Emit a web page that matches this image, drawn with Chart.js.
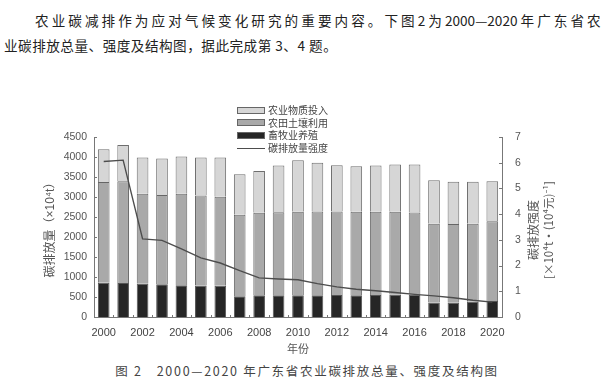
<!DOCTYPE html>
<html><head><meta charset="utf-8">
<script src="https://cdn.jsdelivr.net/npm/chart.js@4"></script>
<style>
html,body{margin:0;padding:0;background:#fff;}
body{width:606px;height:383px;overflow:hidden;position:relative;font-family:'Noto Sans CJK SC','Noto Sans',sans-serif;}
.para{position:absolute;font-size:13.6px;color:#222;line-height:25px;white-space:nowrap;}
#l1{top:8px;left:35px;width:566px;display:flex;justify-content:space-between;}
#l2{top:33px;left:4px;letter-spacing:0.5px;}
#legend{position:absolute;left:237px;top:104px;font-size:10px;color:#444;line-height:12.6px;}
#legend .row{display:flex;align-items:center;height:12.6px;}
#legend .sw{display:inline-block;width:26px;height:5px;border:1px solid #666;margin-right:3px;}
#legend .ln{display:inline-block;width:28px;height:0;border-top:1.5px solid #4d4d4d;margin-right:3px;}
.rot{position:absolute;white-space:nowrap;transform:translate(-50%,-50%) rotate(-90deg);color:#555;}
#cap{position:absolute;top:362px;left:0;width:614px;text-align:center;font-size:12.5px;letter-spacing:1.7px;color:#444;line-height:18px;}
#wrap{position:absolute;left:0;top:95px;width:606px;height:262px;}
</style></head>
<body>
<div class="para" id="l1">农业碳减排作为应对气候变化研究的重要内容。下图 2 为 2000—2020 年广东省农</div>
<div class="para" id="l2">业碳排放总量、强度及结构图，据此完成第 3、4 题。</div>
<div id="wrap"><canvas id="c" width="606" height="262"></canvas></div>
<div id="legend">
  <div class="row"><span class="sw" style="background:#d6d6d6"></span>农业物质投入</div>
  <div class="row"><span class="sw" style="background:#a9a9a9"></span>农田土壤利用</div>
  <div class="row"><span class="sw" style="background:#262626"></span>畜牧业养殖</div>
  <div class="row"><span class="ln"></span>碳排放量强度</div>
</div>
<div class="rot" style="left:532px;top:230px;font-size:12px;">碳排放强度</div>
<div class="rot" style="left:548px;top:230px;font-size:11.5px;">[×10⁴t·(10⁴元)⁻¹]</div>
<div id="cap">图 2　2000—2020 年广东省农业碳排放总量、强度及结构图</div>
<script>
const years = ['2000','2001','2002','2003','2004','2005','2006','2007','2008','2009','2010','2011','2012','2013','2014','2015','2016','2017','2018','2019','2020'];
// 农业物质投入 (×10^4 t)
const materialInput = [820, 905, 910, 912, 935, 953, 980, 1015, 1043, 1167, 1290, 1218, 1158, 1140, 1157, 1182, 1200, 1090, 1055, 1050, 1000];
// 农田土壤利用 (×10^4 t)
const farmlandSoil = [2520, 2545, 2240, 2233, 2285, 2247, 2225, 2035, 2060, 2075, 2085, 2092, 2089, 2085, 2080, 2070, 2052, 1970, 1965, 1950, 1995];
// 畜牧业养殖 (×10^4 t)
const livestock = [855, 850, 840, 820, 795, 790, 780, 520, 545, 545, 545, 545, 548, 545, 550, 560, 560, 360, 360, 380, 400];
// 碳排放量强度
const intensity = [6.05, 6.1, 3.04, 2.98, 2.65, 2.3, 2.1, 1.8, 1.52, 1.48, 1.45, 1.3, 1.17, 1.08, 1.02, 0.95, 0.88, 0.82, 0.75, 0.65, 0.58];

// spread the first paragraph line evenly over x=35..601
(function () {
  const el = document.getElementById('l1');
  const toks = el.textContent.match(/[\u3000-\u303f\u4e00-\u9fff\uff00-\uffef]|[^\s\u3000-\u303f\u4e00-\u9fff\uff00-\uffef]+/g);
  el.textContent = '';
  toks.forEach(t => { const s = document.createElement('span'); s.textContent = t; el.appendChild(s); });
})();

Chart.defaults.font.family = "'Liberation Sans','Noto Sans CJK SC',sans-serif";

const inwardTicks = {
  id: 'inwardTicks',
  afterDatasetsDraw(chart) {
    const {ctx, scales: {x, y, y1}} = chart;
    ctx.save();
    ctx.strokeStyle = '#777';
    ctx.lineWidth = 1;
    ctx.beginPath();
    y.ticks.forEach(t => { const p = Math.round(y.getPixelForValue(t.value)) + 0.5; ctx.moveTo(x.left, p); ctx.lineTo(x.left + 3, p); });
    y1.ticks.forEach(t => { const p = Math.round(y1.getPixelForValue(t.value)) + 0.5; ctx.moveTo(x.right, p); ctx.lineTo(x.right - 3, p); });
    for (let i = 1; i < years.length; i++) {
      const px = Math.round((x.getPixelForValue(i - 1) + x.getPixelForValue(i)) / 2) + 0.5;
      ctx.moveTo(px, y.bottom); ctx.lineTo(px, y.bottom - 2);
    }
    ctx.stroke();
    ctx.restore();
  }
};

new Chart(document.getElementById('c'), {
  type: 'bar',
  data: {
    labels: years,
    datasets: [
      {type: 'line', label: '碳排放量强度', data: intensity, yAxisID: 'y1', borderColor: '#4d4d4d', borderWidth: 1.4, pointRadius: 0, tension: 0, fill: false, order: 0},
      {label: '畜牧业养殖', data: livestock, backgroundColor: '#262626', borderColor: '#555', borderWidth: 1, order: 1},
      {label: '农田土壤利用', data: farmlandSoil, backgroundColor: '#a9a9a9', borderColor: '#666', borderWidth: 1, order: 1},
      {label: '农业物质投入', data: materialInput, backgroundColor: '#d6d6d6', borderColor: '#6e6e6e', borderWidth: 1, order: 1}
    ]
  },
  options: {
    responsive: false,
    animation: false,
    layout: {padding: {top: 42, left: 0, right: 0, bottom: 0}},
    datasets: {bar: {barPercentage: 0.6, categoryPercentage: 1}},
    plugins: {legend: {display: false}, tooltip: {enabled: false}},
    scales: {
      x: {
        stacked: true,
        grid: {display: false, drawTicks: false},
        border: {display: true, color: '#777'},
        ticks: {autoSkip: false, maxRotation: 0, padding: 9, color: '#444', font: {size: 11},
          callback: (v, i) => (i % 2 === 0 ? years[i] : '')},
        title: {display: true, text: '年份', color: '#555', font: {size: 11}, padding: {top: 0, bottom: 0}},
        afterFit: s => { s.height = 40; }
      },
      y: {
        stacked: true, position: 'left', min: 0, max: 4500,
        grid: {display: false, drawTicks: false},
        border: {display: true, color: '#777'},
        ticks: {stepSize: 500, padding: 7, color: '#555', font: {size: 10.5}, callback: v => String(v)},
        title: {display: true, text: '碳排放量（×10⁴t）', color: '#555', font: {size: 12}, padding: {top: 43, bottom: 0}},
        afterFit: s => { s.width = 94; }
      },
      y1: {
        position: 'right', min: 0, max: 7,
        grid: {display: false, drawTicks: false},
        border: {display: true, color: '#777'},
        ticks: {stepSize: 1, padding: 13, color: '#555', font: {size: 10.5}, callback: v => String(v)},
        afterFit: s => { s.width = 104; }
      }
    }
  },
  plugins: [inwardTicks]
});
</script>
</body></html>
